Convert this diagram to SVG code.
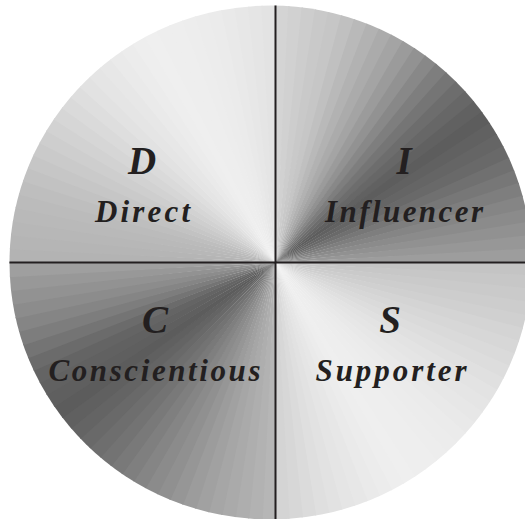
<svg xmlns="http://www.w3.org/2000/svg" xmlns:xlink="http://www.w3.org/1999/xlink" width="525" height="519" viewBox="0 0 525 519">
<style>
.big{font-family:"Liberation Serif","DejaVu Serif",serif;font-style:italic;font-weight:bold;font-size:39px;fill:#231f20;text-anchor:middle}
.lbl{font-family:"Liberation Serif","DejaVu Serif",serif;font-style:italic;font-weight:bold;font-size:31px;fill:#231f20;text-anchor:middle}
.div{stroke:#231f20;stroke-width:2;fill:none}
</style>
<defs>
<path id="w" d="M0 0 L-8.7 -300 L8.7 -300 Z"/>
<clipPath id="disc"><ellipse cx="270.5" cy="262.5" rx="261" ry="257"/></clipPath>
</defs>
<rect width="525" height="519" fill="#ffffff"/>
<g id="disc-fill" clip-path="url(#disc)">
<g transform="translate(275.5 262.5)">
<use href="#w" transform="rotate(1.5)" fill="rgb(212,212,212)"/>
<use href="#w" transform="rotate(4.5)" fill="rgb(209,209,209)"/>
<use href="#w" transform="rotate(7.5)" fill="rgb(205,205,205)"/>
<use href="#w" transform="rotate(10.5)" fill="rgb(201,201,201)"/>
<use href="#w" transform="rotate(13.5)" fill="rgb(198,198,198)"/>
<use href="#w" transform="rotate(16.5)" fill="rgb(192,192,192)"/>
<use href="#w" transform="rotate(19.5)" fill="rgb(185,185,185)"/>
<use href="#w" transform="rotate(22.5)" fill="rgb(178,178,178)"/>
<use href="#w" transform="rotate(25.5)" fill="rgb(171,171,171)"/>
<use href="#w" transform="rotate(28.5)" fill="rgb(164,164,164)"/>
<use href="#w" transform="rotate(31.5)" fill="rgb(155,155,155)"/>
<use href="#w" transform="rotate(34.5)" fill="rgb(146,146,146)"/>
<use href="#w" transform="rotate(37.5)" fill="rgb(136,136,136)"/>
<use href="#w" transform="rotate(40.5)" fill="rgb(126,126,126)"/>
<use href="#w" transform="rotate(43.5)" fill="rgb(117,117,117)"/>
<use href="#w" transform="rotate(46.5)" fill="rgb(109,109,109)"/>
<use href="#w" transform="rotate(49.5)" fill="rgb(103,103,103)"/>
<use href="#w" transform="rotate(52.5)" fill="rgb(97,97,97)"/>
<use href="#w" transform="rotate(55.5)" fill="rgb(93,93,93)"/>
<use href="#w" transform="rotate(58.5)" fill="rgb(97,97,97)"/>
<use href="#w" transform="rotate(61.5)" fill="rgb(101,101,101)"/>
<use href="#w" transform="rotate(64.5)" fill="rgb(105,105,105)"/>
<use href="#w" transform="rotate(67.5)" fill="rgb(112,112,112)"/>
<use href="#w" transform="rotate(70.5)" fill="rgb(119,119,119)"/>
<use href="#w" transform="rotate(73.5)" fill="rgb(126,126,126)"/>
<use href="#w" transform="rotate(76.5)" fill="rgb(133,133,133)"/>
<use href="#w" transform="rotate(79.5)" fill="rgb(139,139,139)"/>
<use href="#w" transform="rotate(82.5)" fill="rgb(145,145,145)"/>
<use href="#w" transform="rotate(85.5)" fill="rgb(151,151,151)"/>
<use href="#w" transform="rotate(88.5)" fill="rgb(157,157,157)"/>
<use href="#w" transform="rotate(91.5)" fill="rgb(196,196,196)"/>
<use href="#w" transform="rotate(94.5)" fill="rgb(199,199,199)"/>
<use href="#w" transform="rotate(97.5)" fill="rgb(202,202,202)"/>
<use href="#w" transform="rotate(100.5)" fill="rgb(205,205,205)"/>
<use href="#w" transform="rotate(103.5)" fill="rgb(208,208,208)"/>
<use href="#w" transform="rotate(106.5)" fill="rgb(212,212,212)"/>
<use href="#w" transform="rotate(109.5)" fill="rgb(215,215,215)"/>
<use href="#w" transform="rotate(112.5)" fill="rgb(218,218,218)"/>
<use href="#w" transform="rotate(115.5)" fill="rgb(221,221,221)"/>
<use href="#w" transform="rotate(118.5)" fill="rgb(224,224,224)"/>
<use href="#w" transform="rotate(121.5)" fill="rgb(227,227,227)"/>
<use href="#w" transform="rotate(124.5)" fill="rgb(229,229,229)"/>
<use href="#w" transform="rotate(127.5)" fill="rgb(231,231,231)"/>
<use href="#w" transform="rotate(130.5)" fill="rgb(233,233,233)"/>
<use href="#w" transform="rotate(133.5)" fill="rgb(235,235,235)"/>
<use href="#w" transform="rotate(136.5)" fill="rgb(236,236,236)"/>
<use href="#w" transform="rotate(139.5)" fill="rgb(237,237,237)"/>
<use href="#w" transform="rotate(142.5)" fill="rgb(238,238,238)"/>
<use href="#w" transform="rotate(145.5)" fill="rgb(238,238,238)"/>
<use href="#w" transform="rotate(148.5)" fill="rgb(239,239,239)"/>
<use href="#w" transform="rotate(151.5)" fill="rgb(238,238,238)"/>
<use href="#w" transform="rotate(154.5)" fill="rgb(236,236,236)"/>
<use href="#w" transform="rotate(157.5)" fill="rgb(234,234,234)"/>
<use href="#w" transform="rotate(160.5)" fill="rgb(231,231,231)"/>
<use href="#w" transform="rotate(163.5)" fill="rgb(229,229,229)"/>
<use href="#w" transform="rotate(166.5)" fill="rgb(226,226,226)"/>
<use href="#w" transform="rotate(169.5)" fill="rgb(223,223,223)"/>
<use href="#w" transform="rotate(172.5)" fill="rgb(219,219,219)"/>
<use href="#w" transform="rotate(175.5)" fill="rgb(215,215,215)"/>
<use href="#w" transform="rotate(178.5)" fill="rgb(212,212,212)"/>
<use href="#w" transform="rotate(181.5)" fill="rgb(182,182,182)"/>
<use href="#w" transform="rotate(184.5)" fill="rgb(178,178,178)"/>
<use href="#w" transform="rotate(187.5)" fill="rgb(174,174,174)"/>
<use href="#w" transform="rotate(190.5)" fill="rgb(170,170,170)"/>
<use href="#w" transform="rotate(193.5)" fill="rgb(166,166,166)"/>
<use href="#w" transform="rotate(196.5)" fill="rgb(161,161,161)"/>
<use href="#w" transform="rotate(199.5)" fill="rgb(156,156,156)"/>
<use href="#w" transform="rotate(202.5)" fill="rgb(150,150,150)"/>
<use href="#w" transform="rotate(205.5)" fill="rgb(144,144,144)"/>
<use href="#w" transform="rotate(208.5)" fill="rgb(139,139,139)"/>
<use href="#w" transform="rotate(211.5)" fill="rgb(133,133,133)"/>
<use href="#w" transform="rotate(214.5)" fill="rgb(127,127,127)"/>
<use href="#w" transform="rotate(217.5)" fill="rgb(121,121,121)"/>
<use href="#w" transform="rotate(220.5)" fill="rgb(115,115,115)"/>
<use href="#w" transform="rotate(223.5)" fill="rgb(110,110,110)"/>
<use href="#w" transform="rotate(226.5)" fill="rgb(105,105,105)"/>
<use href="#w" transform="rotate(229.5)" fill="rgb(100,100,100)"/>
<use href="#w" transform="rotate(232.5)" fill="rgb(96,96,96)"/>
<use href="#w" transform="rotate(235.5)" fill="rgb(92,92,92)"/>
<use href="#w" transform="rotate(238.5)" fill="rgb(95,95,95)"/>
<use href="#w" transform="rotate(241.5)" fill="rgb(97,97,97)"/>
<use href="#w" transform="rotate(244.5)" fill="rgb(100,100,100)"/>
<use href="#w" transform="rotate(247.5)" fill="rgb(107,107,107)"/>
<use href="#w" transform="rotate(250.5)" fill="rgb(116,116,116)"/>
<use href="#w" transform="rotate(253.5)" fill="rgb(125,125,125)"/>
<use href="#w" transform="rotate(256.5)" fill="rgb(133,133,133)"/>
<use href="#w" transform="rotate(259.5)" fill="rgb(140,140,140)"/>
<use href="#w" transform="rotate(262.5)" fill="rgb(146,146,146)"/>
<use href="#w" transform="rotate(265.5)" fill="rgb(152,152,152)"/>
<use href="#w" transform="rotate(268.5)" fill="rgb(159,159,159)"/>
<use href="#w" transform="rotate(271.5)" fill="rgb(179,179,179)"/>
<use href="#w" transform="rotate(274.5)" fill="rgb(181,181,181)"/>
<use href="#w" transform="rotate(277.5)" fill="rgb(183,183,183)"/>
<use href="#w" transform="rotate(280.5)" fill="rgb(185,185,185)"/>
<use href="#w" transform="rotate(283.5)" fill="rgb(187,187,187)"/>
<use href="#w" transform="rotate(286.5)" fill="rgb(190,190,190)"/>
<use href="#w" transform="rotate(289.5)" fill="rgb(194,194,194)"/>
<use href="#w" transform="rotate(292.5)" fill="rgb(198,198,198)"/>
<use href="#w" transform="rotate(295.5)" fill="rgb(202,202,202)"/>
<use href="#w" transform="rotate(298.5)" fill="rgb(206,206,206)"/>
<use href="#w" transform="rotate(301.5)" fill="rgb(210,210,210)"/>
<use href="#w" transform="rotate(304.5)" fill="rgb(214,214,214)"/>
<use href="#w" transform="rotate(307.5)" fill="rgb(218,218,218)"/>
<use href="#w" transform="rotate(310.5)" fill="rgb(222,222,222)"/>
<use href="#w" transform="rotate(313.5)" fill="rgb(226,226,226)"/>
<use href="#w" transform="rotate(316.5)" fill="rgb(229,229,229)"/>
<use href="#w" transform="rotate(319.5)" fill="rgb(231,231,231)"/>
<use href="#w" transform="rotate(322.5)" fill="rgb(234,234,234)"/>
<use href="#w" transform="rotate(325.5)" fill="rgb(236,236,236)"/>
<use href="#w" transform="rotate(328.5)" fill="rgb(238,238,238)"/>
<use href="#w" transform="rotate(331.5)" fill="rgb(239,239,239)"/>
<use href="#w" transform="rotate(334.5)" fill="rgb(238,238,238)"/>
<use href="#w" transform="rotate(337.5)" fill="rgb(238,238,238)"/>
<use href="#w" transform="rotate(340.5)" fill="rgb(237,237,237)"/>
<use href="#w" transform="rotate(343.5)" fill="rgb(236,236,236)"/>
<use href="#w" transform="rotate(346.5)" fill="rgb(235,235,235)"/>
<use href="#w" transform="rotate(349.5)" fill="rgb(233,233,233)"/>
<use href="#w" transform="rotate(352.5)" fill="rgb(231,231,231)"/>
<use href="#w" transform="rotate(355.5)" fill="rgb(229,229,229)"/>
<use href="#w" transform="rotate(358.5)" fill="rgb(227,227,227)"/>
</g>
</g>
<g id="connectors">
<line class="div" x1="275.5" y1="5.5" x2="275.5" y2="519"/>
<line class="div" x1="9.5" y1="262.5" x2="525" y2="262.5"/>
</g>
<g id="node-D">
<text class="big" x="142" y="174">D</text>
<text class="lbl" x="142.5" y="221.5" textLength="95" lengthAdjust="spacing">Direct</text>
</g>
<g id="node-I">
<text class="big" x="404" y="173.5">I</text>
<text class="lbl" x="404" y="221.5" textLength="158" lengthAdjust="spacing">Influencer</text>
</g>
<g id="node-C">
<text class="big" x="155" y="333">C</text>
<text class="lbl" x="154.5" y="380.5" textLength="212" lengthAdjust="spacing">Conscientious</text>
</g>
<g id="node-S">
<text class="big" x="390" y="332.5">S</text>
<text class="lbl" x="391" y="380.5" textLength="151" lengthAdjust="spacing">Supporter</text>
</g>
</svg>
